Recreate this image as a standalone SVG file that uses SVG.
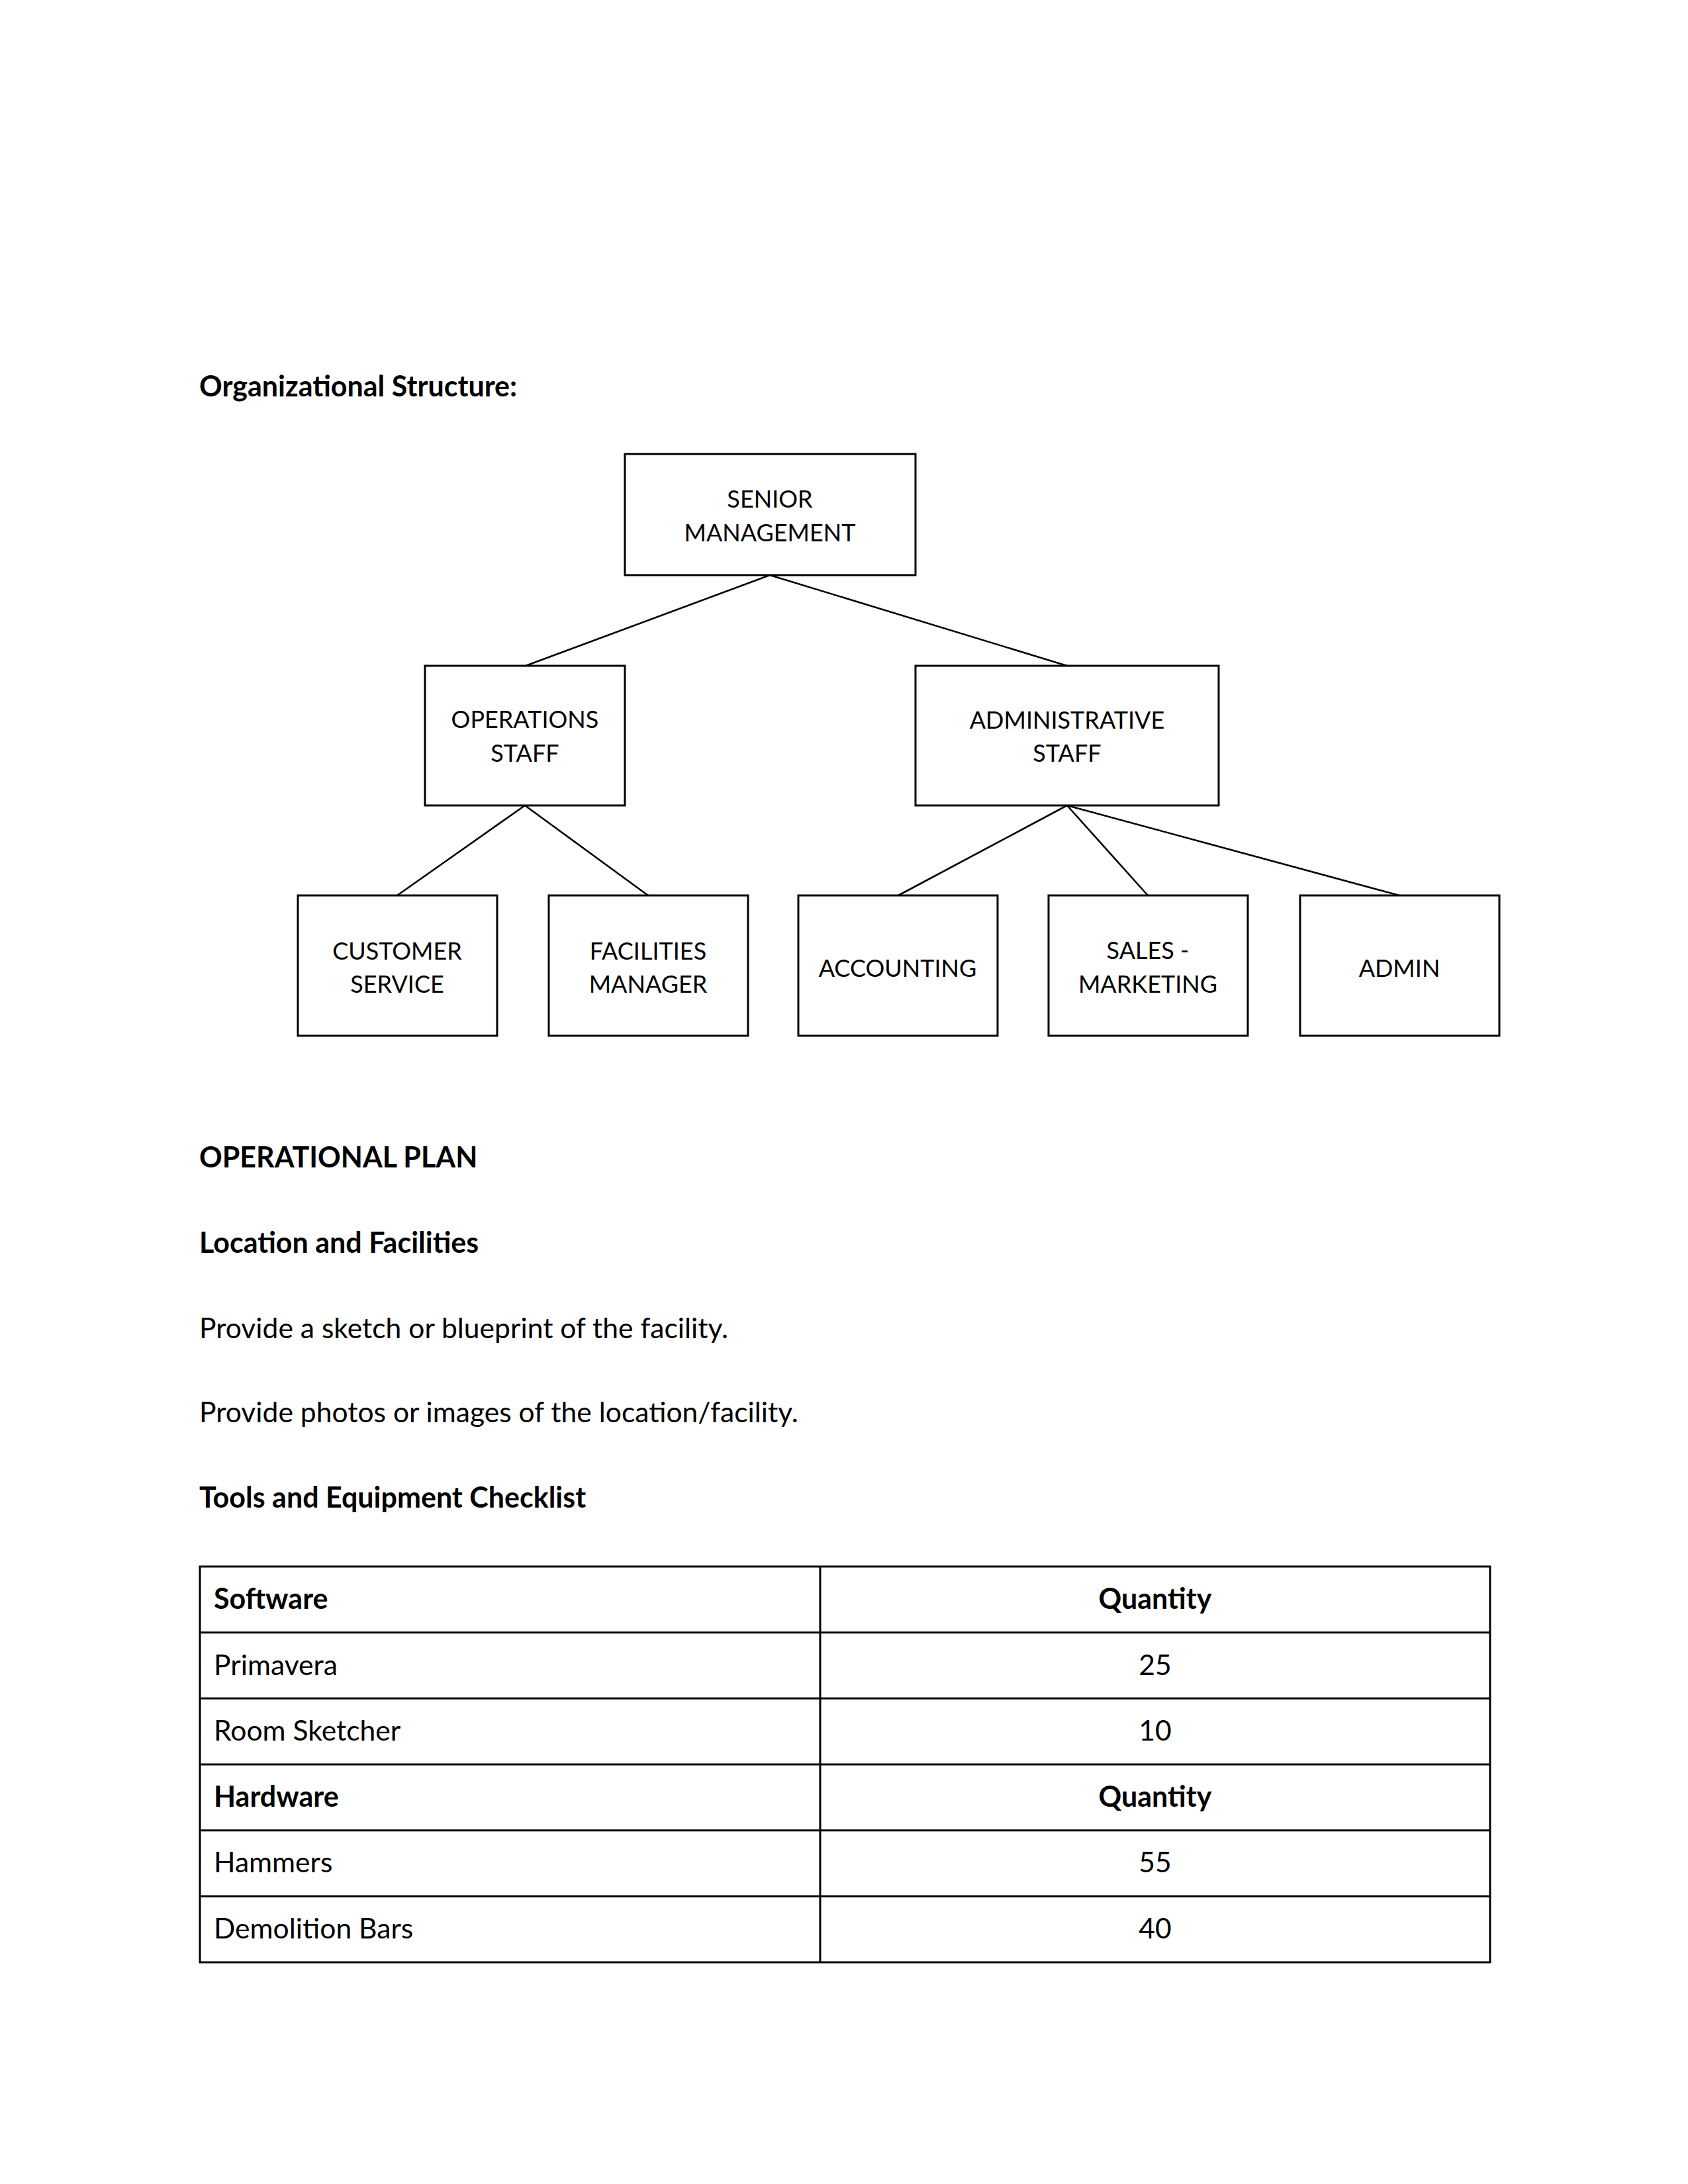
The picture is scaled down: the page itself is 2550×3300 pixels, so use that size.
<svg xmlns="http://www.w3.org/2000/svg" width="2550" height="3300" viewBox="0 0 2550 3300">
<style>
  .box { fill: #ffffff; stroke: #000000; stroke-width: 3; }
  .conn { stroke: #000000; stroke-width: 2.6; fill: none; }
  .bt { font-family: Lato, "Liberation Sans", sans-serif; font-size: 36px; fill: #000; text-anchor: middle; }
  .h { font-family: Lato, "Liberation Sans", sans-serif; font-size: 43px; font-weight: bold; fill: #000; }
  .p { font-family: Lato, "Liberation Sans", sans-serif; font-size: 42.6px; fill: #000; }
  .grid { stroke: #000; stroke-width: 3; fill: none; }
  .c { text-anchor: middle; }
</style>
<rect x="0" y="0" width="2550" height="3300" fill="#ffffff"/>

<text class="h" x="301" y="599">Organizational Structure:</text>

<g id="connectors">
  <line class="conn" x1="1163" y1="869" x2="794" y2="1006"/>
  <line class="conn" x1="1163" y1="869" x2="1612" y2="1006"/>
  <line class="conn" x1="793" y1="1217" x2="600" y2="1353"/>
  <line class="conn" x1="793" y1="1217" x2="979" y2="1353"/>
  <line class="conn" x1="1612" y1="1217" x2="1357" y2="1353"/>
  <line class="conn" x1="1612" y1="1217" x2="1734" y2="1353"/>
  <line class="conn" x1="1612" y1="1217" x2="2114" y2="1353"/>
</g>

<g id="senior-management">
  <rect class="box" x="944" y="686" width="439" height="183"/>
  <text class="bt" x="1163" y="767">SENIOR</text>
  <text class="bt" x="1163" y="818">MANAGEMENT</text>
</g>
<g id="operations-staff">
  <rect class="box" x="642" y="1006" width="302" height="211"/>
  <text class="bt" x="793" y="1100">OPERATIONS</text>
  <text class="bt" x="793" y="1151">STAFF</text>
</g>
<g id="administrative-staff">
  <rect class="box" x="1383" y="1006" width="458" height="211"/>
  <text class="bt" x="1612" y="1101">ADMINISTRATIVE</text>
  <text class="bt" x="1612" y="1151">STAFF</text>
</g>
<g id="customer-service">
  <rect class="box" x="450" y="1353" width="301" height="212"/>
  <text class="bt" x="600" y="1450">CUSTOMER</text>
  <text class="bt" x="600" y="1500">SERVICE</text>
</g>
<g id="facilities-manager">
  <rect class="box" x="829" y="1353" width="301" height="212"/>
  <text class="bt" x="979" y="1450">FACILITIES</text>
  <text class="bt" x="979" y="1500">MANAGER</text>
</g>
<g id="accounting">
  <rect class="box" x="1206" y="1353" width="301" height="212"/>
  <text class="bt" x="1356" y="1476">ACCOUNTING</text>
</g>
<g id="sales-marketing">
  <rect class="box" x="1584" y="1353" width="301" height="212"/>
  <text class="bt" x="1734" y="1449">SALES -</text>
  <text class="bt" x="1734" y="1500">MARKETING</text>
</g>
<g id="admin">
  <rect class="box" x="1964" y="1353" width="301" height="212"/>
  <text class="bt" x="2114" y="1476">ADMIN</text>
</g>

<text class="h" x="301" y="1764">OPERATIONAL PLAN</text>
<text class="h" x="301" y="1893">Location and Facilities</text>
<text class="p" x="301" y="2022">Provide a sketch or blueprint of the facility.</text>
<text class="p" x="301" y="2149">Provide photos or images of the location/facility.</text>
<text class="h" x="301" y="2278">Tools and Equipment Checklist</text>

<g id="table">
  <rect class="grid" x="302" y="2367" width="1949" height="598"/>
  <line class="grid" x1="1239" y1="2367" x2="1239" y2="2965"/>
  <line class="grid" x1="302" y1="2466.7" x2="2251" y2="2466.7"/>
  <line class="grid" x1="302" y1="2566.3" x2="2251" y2="2566.3"/>
  <line class="grid" x1="302" y1="2666" x2="2251" y2="2666"/>
  <line class="grid" x1="302" y1="2765.7" x2="2251" y2="2765.7"/>
  <line class="grid" x1="302" y1="2865.3" x2="2251" y2="2865.3"/>
  <text class="h" x="323" y="2431">Software</text>
  <text class="h c" x="1745" y="2431">Quantity</text>
  <text class="p" x="323" y="2531">Primavera</text>
  <text class="p c" x="1745" y="2531">25</text>
  <text class="p" x="323" y="2630">Room Sketcher</text>
  <text class="p c" x="1745" y="2630">10</text>
  <text class="h" x="323" y="2730">Hardware</text>
  <text class="h c" x="1745" y="2730">Quantity</text>
  <text class="p" x="323" y="2829">Hammers</text>
  <text class="p c" x="1745" y="2829">55</text>
  <text class="p" x="323" y="2929">Demolition Bars</text>
  <text class="p c" x="1745" y="2929">40</text>
</g>
</svg>
